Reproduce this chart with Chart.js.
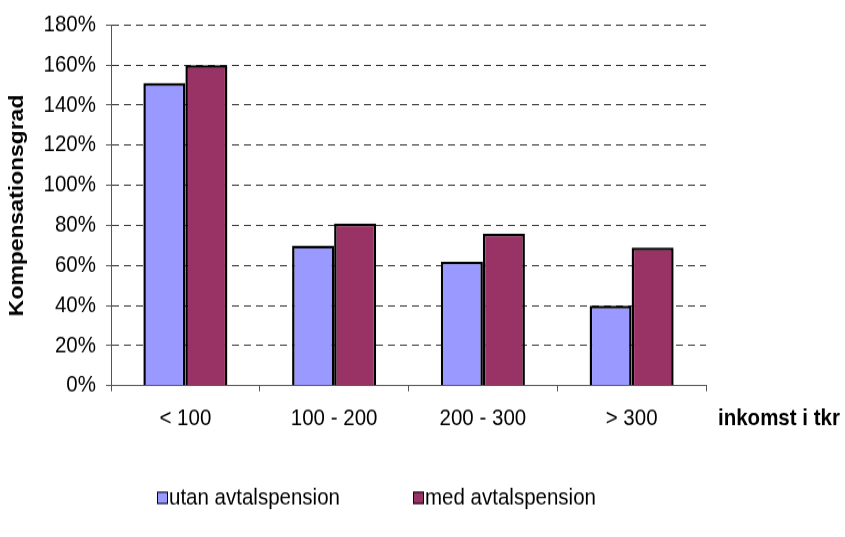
<!DOCTYPE html>
<html><head><meta charset="utf-8">
<script src="https://cdn.jsdelivr.net/npm/chart.js@4"></script>
<style>
html,body{margin:0;padding:0;background:#fff}
#wrap{width:845px;height:537px;overflow:hidden}
#c{display:block;width:845px;height:480px;transform:scaleY(1.11875);transform-origin:0 0}
</style>
</head><body><div id="wrap"><canvas id="c" width="845" height="480"></canvas></div>
<script>
const categories = ['< 100', '100 - 200', '200 - 300', '> 300'];
const utanAvtalspension = [151, 70, 62, 40];
const medAvtalspension = [160, 81, 76, 69];
const seriesNames = ['utan avtalspension', 'med avtalspension'];
const yTitle = 'Kompensationsgrad';
const xTitle = 'inkomst i tkr';
const FONT = '"Liberation Sans", Arial, sans-serif';
const FS = 20.5;

const overlay = {
  id: 'overlay',
  afterDraw(chart) {
    const ctx = chart.ctx, a = chart.chartArea;
    ctx.save();
    ctx.fillStyle = '#000';
    ctx.font = 'bold ' + FS + 'px ' + FONT;
    ctx.textBaseline = 'middle';
    ctx.textAlign = 'left';
    ctx.fillText(xTitle, a.right + 12, a.bottom + 30);
    ctx.translate(17, (a.top + a.bottom) / 2);
    ctx.rotate(-Math.PI / 2);
    ctx.textAlign = 'center';
    ctx.fillText(yTitle, 0, 0);
    ctx.restore();
    // legend
    ctx.save();
    ctx.font = FS + 'px ' + FONT;
    ctx.textBaseline = 'middle';
    ctx.textAlign = 'left';
    const xs = [157, 413];
    const y = 445;
    chart.data.datasets.forEach((ds, i) => {
      ctx.fillStyle = ds.backgroundColor;
      ctx.fillRect(xs[i], y - 5.5, 11, 11);
      ctx.strokeStyle = '#000';
      ctx.lineWidth = 1;
      ctx.strokeRect(xs[i] + 0.5, y - 5, 10, 10);
      ctx.fillStyle = '#000';
      ctx.fillText(ds.label, xs[i] + 12, y);
    });
    ctx.restore();
  }
};

new Chart(document.getElementById('c'), {
  type: 'bar',
  data: {
    labels: categories,
    datasets: [
      { label: seriesNames[0], data: utanAvtalspension, backgroundColor: '#9999FF', borderColor: '#000', borderWidth: 2.5, categoryPercentage: 0.565, barPercentage: 1 },
      { label: seriesNames[1], data: medAvtalspension, backgroundColor: '#993366', borderColor: '#000', borderWidth: 2.5, categoryPercentage: 0.565, barPercentage: 1 }
    ]
  },
  options: {
    responsive: false,
    animation: false,
    devicePixelRatio: 1,
    layout: { padding: { left: 0, top: 21.5, right: 139, bottom: 0 } },
    plugins: { legend: { display: false }, tooltip: { enabled: false } },
    scales: {
      x: {
        afterFit(s) { s.height = 135.2; },
        grid: { drawOnChartArea: false, drawTicks: true, tickLength: 5, tickColor: '#555', offset: true },
        border: { display: true, color: '#555', width: 1 },
        ticks: { color: '#000', font: { family: FONT, size: FS }, padding: 12 }
      },
      y: {
        min: 0, max: 180,
        afterFit(s) { s.width = 111; },
        grid: {
          color: (c) => c.tick && c.tick.value === 0 ? 'rgba(0,0,0,0)' : '#333',
          tickColor: '#555', tickLength: 5, drawTicks: true
        },
        border: { display: true, color: '#555', width: 1, dash: [7, 5] },
        ticks: { stepSize: 20, color: '#000', font: { family: FONT, size: FS }, padding: 10, callback: (v) => v + '%' }
      }
    }
  },
  plugins: [overlay]
});
</script></body></html>
